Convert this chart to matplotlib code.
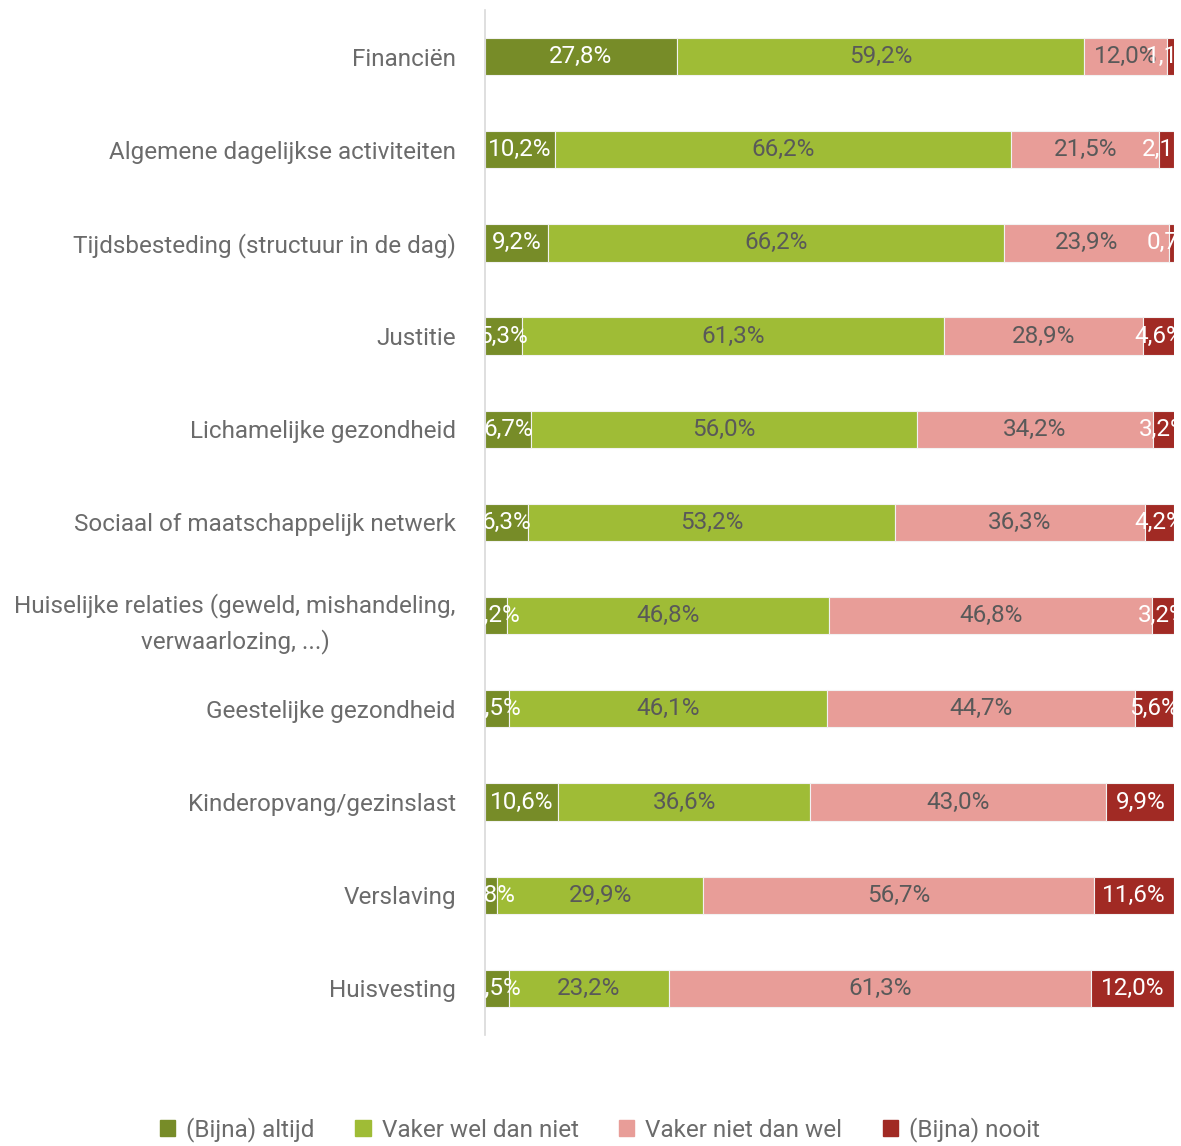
import matplotlib
matplotlib.use('Agg')
import matplotlib.pyplot as plt
from matplotlib.patches import Patch

plt.rcParams['font.family'] = ['Roboto', 'DejaVu Sans']

categories = [
    'Financiën',
    'Algemene dagelijkse activiteiten',
    'Tijdsbesteding (structuur in de dag)',
    'Justitie',
    'Lichamelijke gezondheid',
    'Sociaal of maatschappelijk netwerk',
    'Huiselijke relaties (geweld, mishandeling,\nverwaarlozing, ...)',
    'Geestelijke gezondheid',
    'Kinderopvang/gezinslast',
    'Verslaving',
    'Huisvesting',
]
altijd = [27.8, 10.2, 9.2, 5.3, 6.7, 6.3, 3.2, 3.5, 10.6, 1.8, 3.5]
vaker_wel = [59.2, 66.2, 66.2, 61.3, 56.0, 53.2, 46.8, 46.1, 36.6, 29.9, 23.2]
vaker_niet = [12.0, 21.5, 23.9, 28.9, 34.2, 36.3, 46.8, 44.7, 43.0, 56.7, 61.3]
nooit = [1.1, 2.1, 0.7, 4.6, 3.2, 4.2, 3.2, 5.6, 9.9, 11.6, 12.0]

series = [
    ('(Bijna) altijd', altijd, '#778c28', 'white'),
    ('Vaker wel dan niet', vaker_wel, '#9fbc36', '#595959'),
    ('Vaker niet dan wel', vaker_niet, '#e89d98', '#595959'),
    ('(Bijna) nooit', nooit, '#a12a24', 'white'),
]

fig = plt.figure(figsize=(11.81, 11.46), dpi=100)
ax = fig.add_axes([0.4107, 0.0969, 0.5833, 0.8944])

y = list(range(len(categories)))
left = [0.0] * len(categories)
for name, vals, color, tcolor in series:
    ax.barh(y, vals, left=left, height=0.4, color=color,
            edgecolor='#f2f2f2', linewidth=0.8, label=name)
    # value labels, clipped at the plot edges like the bars
    for i, v in enumerate(vals):
        ax.text(left[i] + v / 2, i, f'{v:.1f}%'.replace('.', ','),
                ha='center', va='center', fontsize=17.5, color=tcolor,
                clip_on=True)
    left = [a + b for a, b in zip(left, vals)]

ax.set_xlim(0, 100)
ax.set_ylim(len(categories) - 0.5, -0.5)
ax.set_yticks(y)
ax.set_yticklabels(categories, fontsize=17.5, color='#6b6b6b',
                   multialignment='center', linespacing=1.55)
ax.tick_params(axis='y', length=0, pad=21)
ax.set_xticks([])
for s in ['top', 'right', 'bottom']:
    ax.spines[s].set_visible(False)
ax.spines['left'].set_color('#d9d9d9')
ax.spines['left'].set_linewidth(1.2)

handles = [Patch(color=c, label=n) for n, _, c, _ in series]
fig.legend(handles=handles, loc='center', bbox_to_anchor=(0.508, 0.014),
           ncol=4, frameon=False, fontsize=17.5, labelcolor='#6b6b6b',
           handlelength=0.65, handleheight=0.65, handletextpad=0.45,
           columnspacing=1.65)

fig.savefig('out.png', dpi=100)
